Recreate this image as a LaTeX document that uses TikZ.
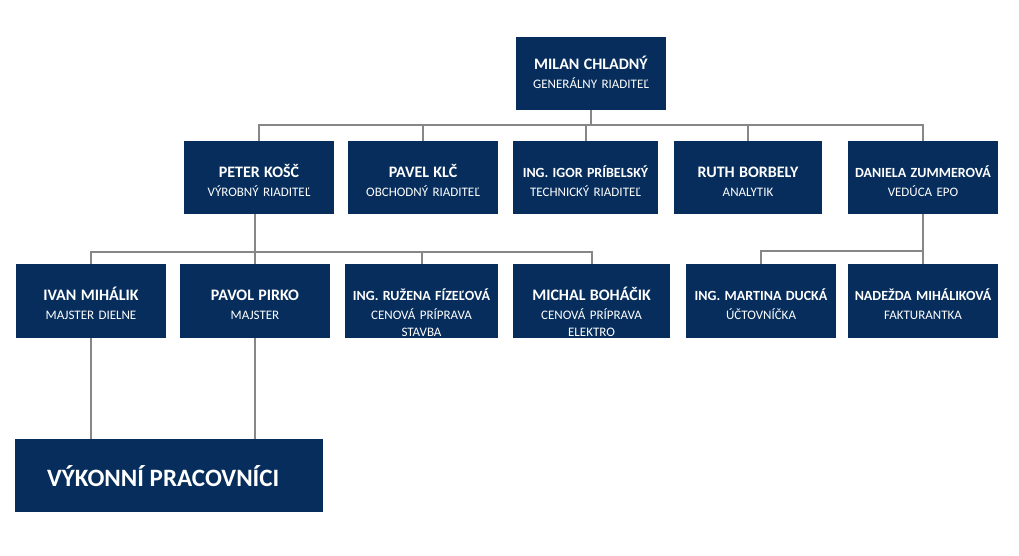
\documentclass[tikz,border=0pt]{standalone}
\usepackage{fontspec}
\setmainfont{Carlito}
\usetikzlibrary{calc}
\definecolor{navy}{RGB}{6,45,92}
\definecolor{wire}{RGB}{135,135,135}
\tikzset{
	box/.style={fill=navy, inner sep=0pt, minimum height=73.5pt},
	txt/.style={text=white, align=center, text width=170pt, inner sep=0pt, anchor=base, font=\fontsize{13}{17}\selectfont},
	link/.style={draw=wire, line width=2pt}
}
\def\staffbox[#1](#2)(#3,#4)#5#6#7{%
	\node[box, minimum width=#1] (#2) at (#3,#4) {};
	\node[txt] (#2-txt) at ([yshift=-36.5pt]#2.north) {{\fontsize{#5}{#5}\selectfont\bfseries #6}\\[2pt]#7};}

\begin{document}
\begin{tikzpicture}[x=1pt,y=-1pt]
		%%%%% START %%%%%
		\fill[white] (0,0) rectangle (1019,556);
		\useasboundingbox (0,0) rectangle (1019,556);
		
		\node[box, minimum width=150pt] (milan) at (591,73.5) {};
		\node[txt] (milan-txt) at (591,69.3) {{\fontsize{16}{16}\selectfont\bfseries MILAN CHLADNÝ}\\[2pt]GENERÁLNY RIADITEĽ};
		
		\staffbox[150pt](peter)(259,177.5){16}{PETER KOŠČ}{VÝROBNÝ RIADITEĽ}
		\staffbox[150pt](pavel)(423,177.5){16}{PAVEL KLČ}{OBCHODNÝ RIADITEĽ}
		\staffbox[145pt](igor)(585.5,177.5){14}{ING. IGOR PRÍBELSKÝ}{TECHNICKÝ RIADITEĽ}
		\staffbox[148pt](ruth)(748,177.5){16}{RUTH BORBELY}{ANALYTIK}
		\staffbox[150pt](daniela)(923,177.5){14}{DANIELA ZUMMEROVÁ}{VEDÚCA EPO}
		
		\staffbox[150pt](ivan)(91,301){16}{IVAN MIHÁLIK}{MAJSTER DIELNE}
		\staffbox[150pt](pavol)(255,301){16}{PAVOL PIRKO}{MAJSTER}
		\staffbox[153pt](ruzena)(421.5,301){14}{ING. RUŽENA FÍZEĽOVÁ}{CENOVÁ PRÍPRAVA\\STAVBA}
		\staffbox[157pt](michal)(591.5,301){16}{MICHAL BOHÁČIK}{CENOVÁ PRÍPRAVA\\ELEKTRO}
		\staffbox[150pt](martina)(761,301){14}{ING. MARTINA DUCKÁ}{ÚČTOVNÍČKA}
		\staffbox[150pt](nadezda)(923,301){14}{NADEŽDA MIHÁLIKOVÁ}{FAKTURANTKA}
		
		\node[box, minimum width=308pt] (workers) at (169,475.5) {};
		\node[text=white, inner sep=0pt, anchor=base west, font=\fontsize{25}{25}\selectfont\bfseries] (workers-txt) at (47,486.7) {VÝKONNÍ PRACOVNÍCI};
		
		% lines
		\coordinate (bus1) at (591,125);
		\draw[link] (milan.south) -- (bus1);
		\foreach \n in {peter,pavel,igor,ruth,daniela}
			\draw[link] (bus1) -| (\n.north);
		
		\coordinate (bus2) at (255,252);
		\draw[link] (bus2 |- peter.south) -- (bus2);
		\foreach \n in {ivan,pavol,ruzena,michal}
			\draw[link] (bus2) -| (\n.north);
		
		\coordinate (bus3) at (923,251);
		\draw[link] (daniela.south) -- (bus3);
		\foreach \n in {martina,nadezda}
			\draw[link] (bus3) -| (\n.north);
		
		\draw[link] (ivan.south) -- (ivan.south |- workers.north);
		\draw[link] (pavol.south) -- (pavol.south |- workers.north);
		%%%%% END %%%%%
\end{tikzpicture}
\end{document}
